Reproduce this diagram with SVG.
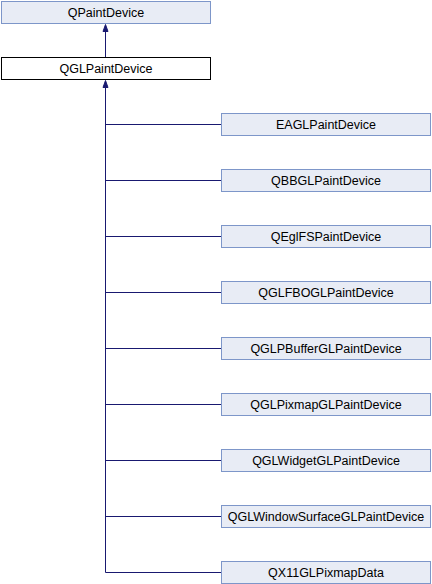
<svg xmlns="http://www.w3.org/2000/svg" width="432" height="584" viewBox="0 0 432 584">
<style>
.n rect{fill:#e8ecf5;stroke:#7d96c9;stroke-width:1}
.cur rect{fill:#ffffff;stroke:#000000;stroke-width:1}
text{font-family:"Liberation Sans",Arial,sans-serif;font-size:12.5px;fill:#000;text-anchor:middle}
.e{stroke:#191970;stroke-width:1;fill:none}
.h{fill:#191970;stroke:#191970;stroke-width:1}
</style>
<g id="connectors">
<path class="e" d="M105.5,57 V31"/>
<polygon class="h" points="105.5,24.5 103,31.5 108,31.5"/>
<path class="e" d="M105.5,87 V572.5"/>
<polygon class="h" points="105.5,80.5 103,87.5 108,87.5"/>
<path class="e" d="M105.5,124.5 H221"/>
<path class="e" d="M105.5,180.5 H221"/>
<path class="e" d="M105.5,236.5 H221"/>
<path class="e" d="M105.5,292.5 H221"/>
<path class="e" d="M105.5,348.5 H221"/>
<path class="e" d="M105.5,404.5 H221"/>
<path class="e" d="M105.5,460.5 H221"/>
<path class="e" d="M105.5,516.5 H221"/>
<path class="e" d="M105.5,572.5 H221"/>
</g>
<g id="QPaintDevice" class="n"><rect x="1.5" y="1.5" width="209" height="22"/><text x="106" y="16.5">QPaintDevice</text></g>
<g id="QGLPaintDevice" class="cur"><rect x="1.5" y="57.5" width="209" height="22"/><text x="106" y="72.5">QGLPaintDevice</text></g>
<g id="EAGLPaintDevice" class="n"><rect x="221.5" y="113.5" width="209" height="22"/><text x="326" y="128.5">EAGLPaintDevice</text></g>
<g id="QBBGLPaintDevice" class="n"><rect x="221.5" y="169.5" width="209" height="22"/><text x="326" y="184.5">QBBGLPaintDevice</text></g>
<g id="QEglFSPaintDevice" class="n"><rect x="221.5" y="225.5" width="209" height="22"/><text x="326" y="240.5">QEglFSPaintDevice</text></g>
<g id="QGLFBOGLPaintDevice" class="n"><rect x="221.5" y="281.5" width="209" height="22"/><text x="326" y="296.5">QGLFBOGLPaintDevice</text></g>
<g id="QGLPBufferGLPaintDevice" class="n"><rect x="221.5" y="337.5" width="209" height="22"/><text x="326" y="352.5">QGLPBufferGLPaintDevice</text></g>
<g id="QGLPixmapGLPaintDevice" class="n"><rect x="221.5" y="393.5" width="209" height="22"/><text x="326" y="408.5">QGLPixmapGLPaintDevice</text></g>
<g id="QGLWidgetGLPaintDevice" class="n"><rect x="221.5" y="449.5" width="209" height="22"/><text x="326" y="464.5">QGLWidgetGLPaintDevice</text></g>
<g id="QGLWindowSurfaceGLPaintDevice" class="n"><rect x="221.5" y="505.5" width="209" height="22"/><text x="326" y="520.5">QGLWindowSurfaceGLPaintDevice</text></g>
<g id="QX11GLPixmapData" class="n"><rect x="221.5" y="561.5" width="209" height="22"/><text x="326" y="576.5">QX11GLPixmapData</text></g>
</svg>
